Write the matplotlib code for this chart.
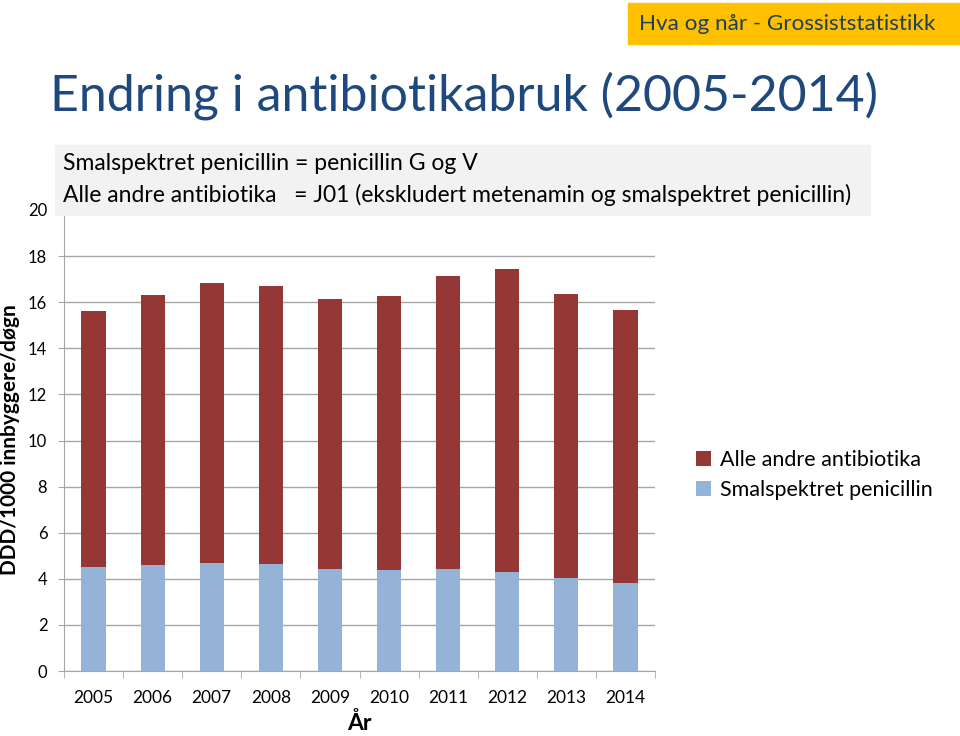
import numpy as np
import matplotlib
matplotlib.use('Agg')
import matplotlib.pyplot as plt
from matplotlib.ticker import MultipleLocator

plt.rcParams['font.family'] = ['Lato', 'DejaVu Sans']

# Data (DDD/1000 innbyggere/døgn)
years = ['2005', '2006', '2007', '2008', '2009', '2010', '2011', '2012', '2013', '2014']
total = [15.61, 16.30, 16.83, 16.71, 16.16, 16.29, 17.13, 17.43, 16.35, 15.68]
smalspektret = [4.52, 4.60, 4.67, 4.65, 4.42, 4.39, 4.42, 4.28, 4.04, 3.80]
andre = [t - s for t, s in zip(total, smalspektret)]

blue = '#95B3D7'
red = '#953735'
grid_col = '#A6A6A6'

fig = plt.figure(figsize=(9.6, 7.36), dpi=100)
ax = fig.add_axes([64 / 960, 1 - 671 / 736, (655 - 64) / 960, (671 - 210) / 736])

x = np.arange(len(years))
ax.bar(x, smalspektret, width=0.41, color=blue, label='Smalspektret penicillin', zorder=3)
ax.bar(x, andre, width=0.41, bottom=smalspektret, color=red, label='Alle andre antibiotika', zorder=3)

ax.set_xlim(-0.5, len(years) - 0.5)
ax.set_ylim(0, 20)
ax.yaxis.set_major_locator(MultipleLocator(2))
ax.grid(axis='y', color=grid_col, linewidth=1, zorder=0)
ax.set_xticks(x)
ax.set_xticklabels(years, fontsize=12.5)
ax.set_xticks(np.arange(-0.5, len(years)), minor=True)
ax.tick_params(axis='x', which='major', length=0, pad=14)
ax.tick_params(axis='x', which='minor', length=5, color=grid_col, direction='out')
ax.tick_params(axis='y', length=4, color=grid_col, labelsize=12, pad=8)
for s in ['top', 'right']:
    ax.spines[s].set_visible(False)
for s in ['left', 'bottom']:
    ax.spines[s].set_color(grid_col)

ax.set_xlabel('År', fontsize=16.5, fontweight='bold', labelpad=4)
fig.text(10 / 960, 1 - 440 / 736, 'DDD/1000 innbyggere/døgn', rotation=90, fontsize=15,
         fontweight='bold', ha='center', va='center')

# legend (reverse order: red on top)
h, l = ax.get_legend_handles_labels()
fig.legend(h[::-1], l[::-1], loc='center left', bbox_to_anchor=(677 / 960, 1 - 475 / 736),
           frameon=False, fontsize=15.5, handlelength=0.7, handleheight=0.7,
           handletextpad=0.4, labelspacing=0.45)

# title
fig.text(50 / 960, 1 - 96 / 736, 'Endring i antibiotikabruk (2005-2014)', fontsize=36,
         color='#1F497D', ha='left', va='center')

# top-right badge
fig.patches.append(plt.Rectangle((628 / 960, 1 - 44 / 736), 332 / 960, 41 / 736,
                                 transform=fig.transFigure, color='#FFC000', zorder=1))
fig.text(639 / 960, 1 - 24 / 736, 'Hva og når - Grossiststatistikk', fontsize=16.2,
         color='#1F3F5F', ha='left', va='center', zorder=2)

# gray note box
fig.patches.append(plt.Rectangle((55 / 960, 1 - 215 / 736), 815 / 960, 70 / 736,
                                 transform=fig.transFigure, color='#F2F2F2', zorder=1))
fig.text(63 / 960, 1 - 164 / 736, 'Smalspektret penicillin = penicillin G og V', fontsize=16.5,
         ha='left', va='center', zorder=2)
fig.text(63 / 960, 1 - 195 / 736,
         'Alle andre antibiotika   = J01 (ekskludert metenamin og smalspektret penicillin)',
         fontsize=16.5, ha='left', va='center', zorder=2)

fig.savefig('out.png', dpi=100)
